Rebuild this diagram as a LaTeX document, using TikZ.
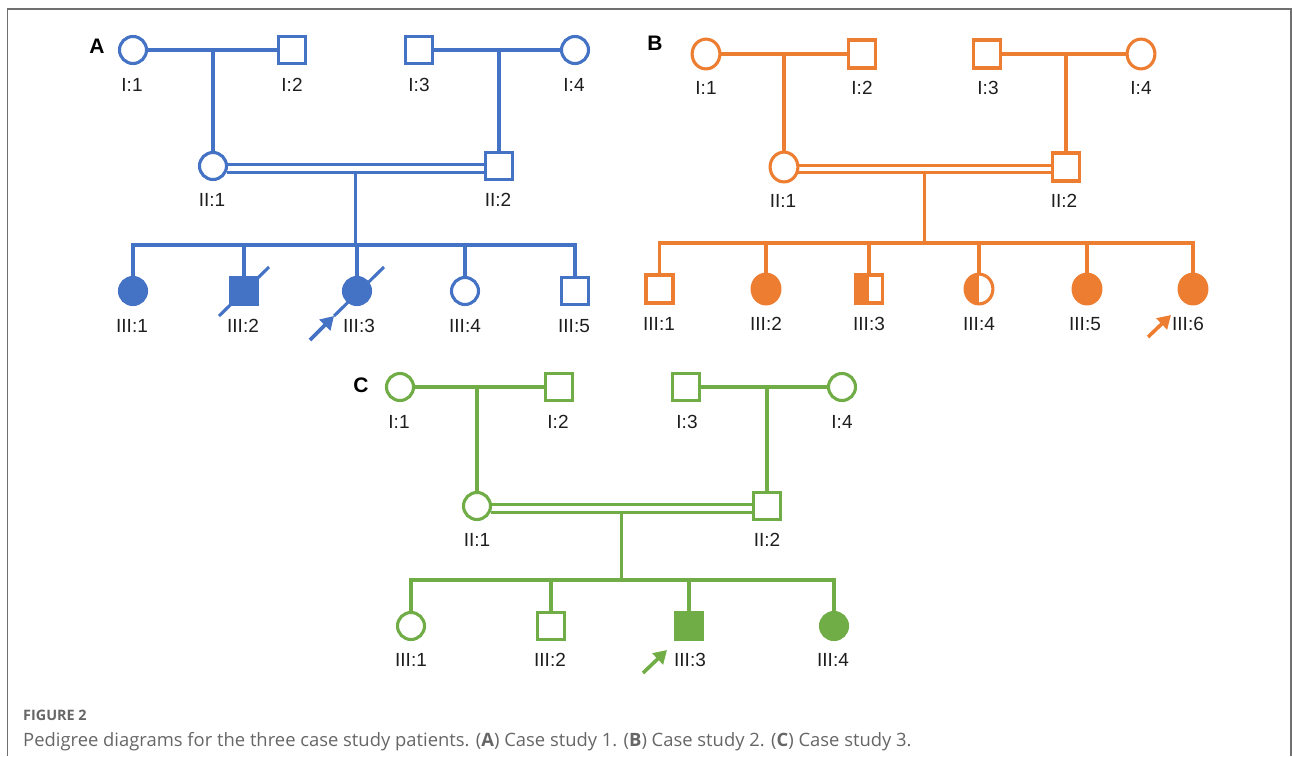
\documentclass[tikz,border=0pt]{standalone}
\usepackage{fontspec}
\setmainfont{Liberation Sans}
\newfontfamily\capfont{Open Sans}
\usetikzlibrary{arrows.meta,shapes.geometric,calc}
\definecolor{pblue}{HTML}{4472C4}
\definecolor{porange}{HTML}{ED7D31}
\definecolor{pgreen}{HTML}{70AD47}
\definecolor{labgray}{HTML}{1E1E1E}
\definecolor{capgray}{HTML}{666666}
\definecolor{framegray}{HTML}{707070}
\colorlet{pc}{pblue}
\begin{document}
\begin{tikzpicture}[x=1pt,y=-1pt,
  ind/.style={draw=pc, line width=3.1pt, inner sep=0pt, fill=white},
  fem/.style={ind, circle, minimum size=27pt},
  femB/.style={ind, ellipse, minimum width=27.8pt, minimum height=29.8pt},
  mal/.style={ind, rectangle, minimum size=27pt},
  malB/.style={ind, rectangle, minimum width=27pt, minimum height=28pt},
  aff/.style={fill=pc},
  halfaff/.style={path picture={\fill[pc] (path picture bounding box.south west) rectangle (path picture bounding box.north);}},
  rel/.style={draw=pc, line width=3.1pt},
  lab/.style={font=\fontsize{19}{19}\selectfont, text=labgray, inner sep=0pt},
  panel/.style={font=\bfseries\fontsize{21}{21}\selectfont, inner sep=0pt},
  slash/.style={draw=pc, line width=3.1pt},
  proband/.style={draw=pc, line width=3.6pt, -{Triangle[length=13pt,width=15pt]}}
]
\useasboundingbox (0,0) rectangle (1292,756);
\draw[framegray, line width=1.2pt] (7.3,756) -- (7.3,9) -- (1291,9) -- (1291,756);

% ---------------- Panel A ----------------
\begin{scope}
\colorlet{pc}{pblue}
\node[panel] (pA) at (97,46) {A};
\node[fem] (A11) at (133,50) {};
\node[mal] (A12) at (292,50) {};
\node[mal] (A13) at (419,50) {};
\node[fem] (A14) at (575,50) {};
\node[fem] (A21) at (213,166) {};
\node[mal] (A22) at (499,166) {};
\node[fem,aff] (A31) at (133,291) {};
\node[mal,aff] (A32) at (244,291) {};
\node[fem,aff] (A33) at (357,291) {};
\node[fem] (A34) at (465,291) {};
\node[mal] (A35) at (575,291) {};
\node[lab] (lA11) at (132,85) {I:1};
\node[lab] (lA12) at (292,85) {I:2};
\node[lab] (lA13) at (419,85) {I:3};
\node[lab] (lA14) at (574,85) {I:4};
\node[lab] (lA21) at (212,200) {II:1};
\node[lab] (lA22) at (498,200) {II:2};
\node[lab] (lA31) at (132,326) {III:1};
\node[lab] (lA32) at (243,326) {III:2};
\node[lab] (lA33) at (359,326) {III:3};
\node[lab] (lA34) at (465,326) {III:4};
\node[lab] (lA35) at (574,326) {III:5};
\draw[rel] (A11) -- (A12);
\draw[rel] (A13) -- (A14);
\draw[rel] (A21.north) -- (A21.north |- A11.center);
\draw[rel] (A22.north) -- (A22.north |- A13.center);
\draw[rel] (A21.6) -- (A21.6 -| A22.west);
\draw[rel] (A21.-24) -- (A21.-24 -| A22.west);
\coordinate (dA) at ($(A21.-24)!0.5!(A21.-24 -| A22.west)$);
\coordinate (sibA) at (dA |- 0,245);
\draw[rel] (dA) -- (sibA);
\draw[rel] (A31.north) -- (A31.north |- sibA) -- (A35.north |- sibA) -- (A35.north);
\draw[rel] (A32.north) -- (A32.north |- sibA);
\draw[rel] (A33.north) -- (A33.north |- sibA);
\draw[rel] (A34.north) -- (A34.north |- sibA);
\draw[slash] ($(A32.center)+(-25,25)$) -- ($(A32.center)+(25,-24)$);
\draw[slash] ($(A33.center)+(-23,25)$) -- ($(A33.center)+(27,-24)$);
\draw[proband] ($(A33.center)+(-47,49)$) -- ($(A33.center)+(-23,25)$);
\end{scope}

% ---------------- Panel B ----------------
\begin{scope}
\colorlet{pc}{porange}
\node[panel] (pB) at (655,43) {B};
\node[femB] (B11) at (706,54) {};
\node[malB] (B12) at (862,54) {};
\node[malB] (B13) at (987,54) {};
\node[femB] (B14) at (1141,54) {};
\node[femB] (B21) at (784,167) {};
\node[malB] (B22) at (1066,167) {};
\node[malB] (B31) at (659.5,289) {};
\node[femB,aff] (B32) at (766,289) {};
\node[malB,halfaff] (B33) at (869,289) {};
\node[femB,halfaff] (B34) at (979,289) {};
\node[femB,aff] (B35) at (1087,289) {};
\node[femB,aff] (B36) at (1193,289) {};
\node[lab] (lB11) at (706,88) {I:1};
\node[lab] (lB12) at (862,88) {I:2};
\node[lab] (lB13) at (988,88) {I:3};
\node[lab] (lB14) at (1141,88) {I:4};
\node[lab] (lB21) at (783,201) {II:1};
\node[lab] (lB22) at (1064,201) {II:2};
\node[lab] (lB31) at (659,324) {III:1};
\node[lab] (lB32) at (766,324) {III:2};
\node[lab] (lB33) at (869,324) {III:3};
\node[lab] (lB34) at (979,324) {III:4};
\node[lab] (lB35) at (1085,324) {III:5};
\node[lab] (lB36) at (1188,324) {III:6};
\draw[rel] (B11) -- (B12);
\draw[rel] (B13) -- (B14);
\draw[rel] (B21.north) -- (B21.north |- B11.center);
\draw[rel] (B22.north) -- (B22.north |- B13.center);
\draw[rel] (B21.6) -- (B21.6 -| B22.west);
\draw[rel] (B21.-22) -- (B21.-22 -| B22.west);
\coordinate (dB) at ($(B21.-22)!0.5!(B21.-22 -| B22.west)$);
\coordinate (sibB) at (dB |- 0,243);
\draw[rel] (dB) -- (sibB);
\draw[rel] (B31.north) -- (B31.north |- sibB) -- (B36.north |- sibB) -- (B36.north);
\draw[rel] (B32.north) -- (B32.north |- sibB);
\draw[rel] (B33.north) -- (B33.north |- sibB);
\draw[rel] (B34.north) -- (B34.north |- sibB);
\draw[rel] (B35.north) -- (B35.north |- sibB);
\draw[proband] ($(B36.center)+(-45,48)$) -- ($(B36.center)+(-22,26)$);
\end{scope}

% ---------------- Panel C ----------------
\begin{scope}
\colorlet{pc}{pgreen}
\node[panel] (pC) at (361,385) {C};
\node[fem] (C11) at (400,387) {};
\node[mal] (C12) at (559,387) {};
\node[mal] (C13) at (686,387) {};
\node[fem] (C14) at (842,387) {};
\node[fem] (C21) at (477,506) {};
\node[mal] (C22) at (767,506) {};
\node[fem] (C31) at (411,626) {};
\node[mal] (C32) at (551,626) {};
\node[mal,aff] (C33) at (689,626) {};
\node[fem,aff] (C34) at (834,626) {};
\node[lab] (lC11) at (399,422) {I:1};
\node[lab] (lC12) at (558,422) {I:2};
\node[lab] (lC13) at (687,422) {I:3};
\node[lab] (lC14) at (842,422) {I:4};
\node[lab] (lC21) at (477,540) {II:1};
\node[lab] (lC22) at (767,540) {II:2};
\node[lab] (lC31) at (411,660) {III:1};
\node[lab] (lC32) at (550,660) {III:2};
\node[lab] (lC33) at (690,660) {III:3};
\node[lab] (lC34) at (833,660) {III:4};
\draw[rel] (C11) -- (C12);
\draw[rel] (C13) -- (C14);
\draw[rel] (C21.north) -- (C21.north |- C11.center);
\draw[rel] (C22.north) -- (C22.north |- C13.center);
\draw[rel] (C21.6) -- (C21.6 -| C22.west);
\draw[rel] (C21.-24) -- (C21.-24 -| C22.west);
\coordinate (dC) at ($(C21.-24)!0.5!(C21.-24 -| C22.west)$);
\coordinate (sibC) at (dC |- 0,580);
\draw[rel] (dC) -- (sibC);
\draw[rel] (C31.north) -- (C31.north |- sibC) -- (C34.north |- sibC) -- (C34.north);
\draw[rel] (C32.north) -- (C32.north |- sibC);
\draw[rel] (C33.north) -- (C33.north |- sibC);
\draw[proband] ($(C33.center)+(-46,47)$) -- ($(C33.center)+(-22,24)$);
\end{scope}

% ---------------- Caption ----------------
\node[anchor=base west, inner sep=0pt, text=capgray, font=\capfont\bfseries\fontsize{14.4}{14.4}\selectfont] (figno) at (23,720.7) {FIGURE 2};
\node[anchor=base west, inner sep=0pt, text=capgray, font=\capfont\fontsize{18.4}{18.4}\selectfont] (caption) at (23,746.7) {Pedigree diagrams for the three case study patients. (\textbf{A}) Case study 1. (\textbf{B}) Case study 2. (\textbf{C}) Case study 3.};
\end{tikzpicture}
\end{document}
